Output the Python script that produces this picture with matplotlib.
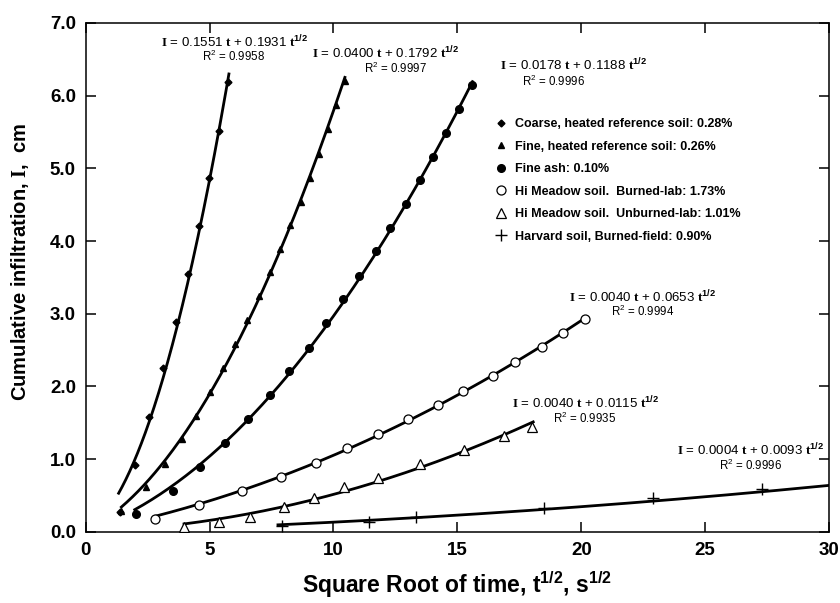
import numpy as np
import matplotlib
matplotlib.use("Agg")
import matplotlib.pyplot as plt
from matplotlib.lines import Line2D

plt.rcParams['font.family'] = ['Liberation Sans', 'DejaVu Sans']
plt.rcParams['mathtext.fontset'] = 'custom'
plt.rcParams['mathtext.rm'] = 'Liberation Sans'
plt.rcParams['mathtext.bf'] = 'Liberation Serif:bold'
plt.rcParams['mathtext.sf'] = 'Liberation Sans:bold'
plt.rcParams['mathtext.default'] = 'regular'

# measured points (x = sqrt time, y = cumulative infiltration)
coarse_x = [1.37, 1.99, 2.56, 3.12, 3.63, 4.13, 4.56, 4.98, 5.37, 5.75]
coarse_y = [0.27, 0.92, 1.58, 2.25, 2.89, 3.55, 4.21, 4.87, 5.52, 6.19]
fine_x = [1.44, 2.45, 3.19, 3.89, 4.47, 5.03, 5.56, 6.04, 6.49, 6.98, 7.43, 7.83,
          8.26, 8.67, 9.04, 9.41, 9.76, 10.12, 10.46]
fine_y = [0.28, 0.62, 0.94, 1.28, 1.60, 1.92, 2.26, 2.58, 2.91, 3.24, 3.57, 3.89,
          4.22, 4.54, 4.87, 5.20, 5.54, 5.87, 6.20]
ash_x = [2.05, 3.53, 4.63, 5.61, 6.55, 7.43, 8.21, 9.00, 9.68, 10.39, 11.03, 11.70,
         12.30, 12.91, 13.48, 14.02, 14.56, 15.07, 15.61]
ash_y = [0.24, 0.56, 0.89, 1.22, 1.55, 1.88, 2.21, 2.53, 2.87, 3.20, 3.52, 3.86,
         4.18, 4.51, 4.84, 5.16, 5.49, 5.82, 6.15]
hmb_x = [2.81, 4.56, 6.31, 7.90, 9.31, 10.56, 11.80, 12.99, 14.20, 15.23, 16.44,
         17.32, 18.40, 19.27, 20.17]
hmb_y = [0.17, 0.37, 0.56, 0.76, 0.95, 1.15, 1.35, 1.55, 1.74, 1.94, 2.14,
         2.34, 2.54, 2.73, 2.93]
hmu_x = [3.97, 5.37, 6.62, 7.99, 9.22, 10.43, 11.78, 13.51, 15.26, 16.88, 18.03]
hmu_y = [0.07, 0.13, 0.20, 0.34, 0.47, 0.61, 0.74, 0.93, 1.12, 1.32, 1.44]
harv_x = [7.94, 11.45, 13.35, 18.50, 22.88, 27.30]
harv_y = [0.08, 0.14, 0.21, 0.33, 0.47, 0.59]

labels = ["Coarse, heated reference soil: 0.28%",
          "Fine, heated reference soil: 0.26%",
          "Fine ash: 0.10%",
          "Hi Meadow soil.  Burned-lab: 1.73%",
          "Hi Meadow soil.  Unburned-lab: 1.01%",
          "Harvard soil, Burned-field: 0.90%"]

# fitted I = a t + b t^1/2, with the x range each fit line covers
coef_a = [0.1551, 0.0400, 0.0178, 0.0040, 0.0040, 0.0004]
coef_b = [0.1931, 0.1792, 0.1188, 0.0653, 0.0115, 0.0093]
r2 = [0.9958, 0.9997, 0.9996, 0.9994, 0.9935, 0.9996]
fit_start = [1.33, 1.44, 1.98, 2.81, 3.97, 7.76]
fit_end = [5.78, 10.46, 15.61, 20.17, 18.06, 30.0]

# where the equation labels sit
eq_pos = [(6.02, 6.74), (12.11, 6.58), (19.7, 6.42), (22.47, 3.23), (20.18, 1.77), (26.84, 1.13)]
r2_pos = [(5.97, 6.54), (12.52, 6.37), (18.9, 6.20), (22.47, 3.03), (20.15, 1.56), (26.84, 0.92)]

xs = [coarse_x, fine_x, ash_x, hmb_x, hmu_x, harv_x]
ys = [coarse_y, fine_y, ash_y, hmb_y, hmu_y, harv_y]
styles = [dict(marker='D', ms=3.5, mfc='black', mec='black'),
          dict(marker='^', ms=4.5, mfc='black', mec='black'),
          dict(marker='o', ms=5.5, mfc='black', mec='black'),
          dict(marker='o', ms=6.5, mfc='white', mec='black', mew=0.9),
          dict(marker='^', ms=6.5, mfc='white', mec='black', mew=0.9),
          dict(marker='+', ms=8, mec='black', mew=1.0)]

fig = plt.figure(figsize=(8.4, 6.03), dpi=100)
ax = fig.add_axes([0.102, 0.118, 0.885, 0.844])

handles = []
for i in range(6):
    tt = np.linspace(fit_start[i], fit_end[i], 200)
    ax.plot(tt, coef_a[i] * tt**2 + coef_b[i] * tt, color='black', lw=2.0, zorder=2)
    ax.plot(xs[i], ys[i], linestyle='none', zorder=3, **styles[i])
    handles.append(Line2D([], [], linestyle='none', **styles[i]))

    eq = (r"$\mathbf{I}$ = " + "%.4f" % coef_a[i] + r" $\mathbf{t}$ + " +
          "%.4f" % coef_b[i] + r" $\mathbf{t}^{\mathsf{1/2}}$")
    ax.text(eq_pos[i][0], eq_pos[i][1], eq, ha='center', va='center', fontsize=9.5)
    ax.text(r2_pos[i][0], r2_pos[i][1], "R$^2$ = %.4f" % r2[i], ha='center', va='center',
            fontsize=8.3)

leg = ax.legend(handles, labels, loc='upper left', bbox_to_anchor=(0.535, 0.835),
                frameon=False, handlelength=1.0, handletextpad=0.6, labelspacing=0.84,
                prop={'weight': 'bold', 'size': 9})

ax.set_xlim(0, 30)
ax.set_ylim(0, 7)
ax.set_xticks([0, 5, 10, 15, 20, 25, 30])
ax.set_yticks(np.arange(0, 7.5, 1.0))
ax.set_yticklabels(["%.1f" % v for v in np.arange(0, 7.5, 1.0)])
ax.tick_params(direction='in', length=7, width=1.1, top=True, right=True,
               labelsize=13.5, pad=7)
for lab in ax.get_xticklabels() + ax.get_yticklabels():
    lab.set_fontweight('bold')
for s in ax.spines.values():
    s.set_linewidth(1.1)

ax.set_xlabel(r"Square Root of time, t$^{\mathsf{1/2}}$, s$^{\mathsf{1/2}}$",
              fontsize=16.5, fontweight='bold', labelpad=8)
ax.set_ylabel(r"Cumulative infiltration, $\mathbf{I}$,  cm",
              fontsize=14.5, fontweight='bold')
ax.yaxis.set_label_coords(-0.073, 0.53)

fig.savefig("out.png", dpi=100)
